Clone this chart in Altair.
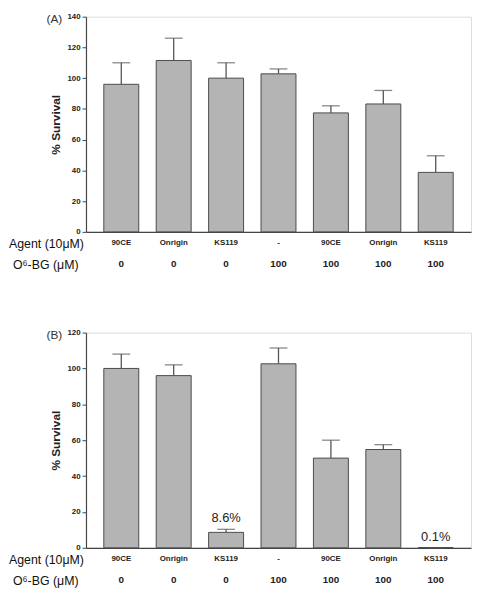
import altair as alt
import pandas as pd

F = "Liberation Sans"

# ---- data ----
positions = [1, 2, 3, 4, 5, 6, 7]
agents = ["90CE", "Onrigin", "KS119", "-", "90CE", "Onrigin", "KS119"]
o6bg = ["0", "0", "0", "100", "100", "100", "100"]

surv_a = [96, 111.5, 100, 102.8, 77.4, 83.2, 38.7]
err_a = [110, 126, 110, 106, 82, 92, 49.5]
pct_a = ["", "", "", "", "", "", ""]

surv_b = [100, 96, 8.6, 102.6, 50, 54.8, 0.1]
err_b = [108, 102, 10.3, 111.4, 60, 57.5, 0.1]
pct_b = ["", "", "8.6%", "", "", "", "0.1%"]

row_titles = ["Agent (10μM)", "O⁶-BG (μM)"]
y_title = "% Survival"
tags = ["(A)", "(B)"]

W = 390
AX = "#454545"


def panel(vals, errs, pcts, ymax, h, tag):
    df = pd.DataFrame({
        "pos": positions, "agent": agents, "o6": o6bg,
        "val": vals, "err": errs, "lab": pcts,
    })
    base = alt.Chart(df)
    xs = alt.Scale(paddingInner=0.333, paddingOuter=0.34)
    xaxis = alt.Axis(labels=False, ticks=False, title=None, domain=True,
                     domainColor=AX, domainWidth=1.2)
    x = alt.X("pos:O", scale=xs, axis=xaxis)
    ys = alt.Scale(domain=[0, ymax], nice=False)
    yaxis = alt.Axis(values=list(range(0, ymax + 1, 20)),
                     tickCount=ymax // 20 + 1, grid=False,
                     labelOverlap=False, labelFlush=False,
                     labelFont=F, labelFontWeight="bold", labelFontSize=8,
                     labelColor="#222", labelPadding=2, tickSize=4,
                     tickColor=AX, domainColor=AX, domainWidth=1.2,
                     titleFont=F, titleFontSize=12, titleFontWeight="bold",
                     titleColor="#222", titlePadding=4)

    def Y(f):
        return alt.Y(f, scale=ys, axis=yaxis, title=y_title)

    bars = base.mark_bar(fill="#b4b4b4", stroke="#4a4a4a", strokeWidth=1).encode(
        x=x, y=Y("val:Q"))
    rule = base.mark_rule(color="#555", strokeWidth=1.3).encode(
        x=x, y=Y("val:Q"), y2="err:Q")
    cap = base.mark_tick(color="#555", size=18, thickness=1.3,
                         orient="horizontal").encode(x=x, y=Y("err:Q"))
    pct = base.transform_filter("datum.lab != ''").mark_text(
        font=F, fontSize=13, dy=-11, baseline="middle", color="#222").encode(
        x=x, y=Y("err:Q"), text="lab:N")
    agent_txt = base.mark_text(font=F, fontSize=8, fontWeight="bold",
                               baseline="middle", color="#222").encode(
        x=x, y=alt.value(h + 11), text="agent:N")
    o6_txt = base.mark_text(font=F, fontSize=10, fontWeight="bold",
                            baseline="middle", color="#222").encode(
        x=x, y=alt.value(h + 33), text="o6:N")
    rt = pd.DataFrame({"t": row_titles, "yy": [h + 12, h + 34],
                       "xx": [-78, -74]})
    row_txt = alt.Chart(rt).mark_text(font=F, fontSize=12.5, align="left",
                                      baseline="middle", color="#111").encode(
        x=alt.X("xx:Q", scale=None), y=alt.Y("yy:Q", scale=None), text="t:N")
    tg = pd.DataFrame({"t": [tag]})
    tag_txt = alt.Chart(tg).mark_text(font=F, fontSize=12, align="left",
                                      baseline="middle", color="#333").encode(
        x=alt.value(-40), y=alt.value(2), text="t:N")
    return alt.layer(bars, rule, cap, pct, agent_txt, o6_txt, row_txt,
                     tag_txt).properties(width=W, height=h)


pa = panel(surv_a, err_a, pct_a, 140, 218, tags[0])
pb = panel(surv_b, err_b, pct_b, 120, 218, tags[1])

chart = alt.vconcat(pa, pb, spacing=56).properties(padding=0).configure_view(
    stroke=None).configure(background="white")

chart.save("out.html", embed_options={"renderer": "svg", "actions": False})
